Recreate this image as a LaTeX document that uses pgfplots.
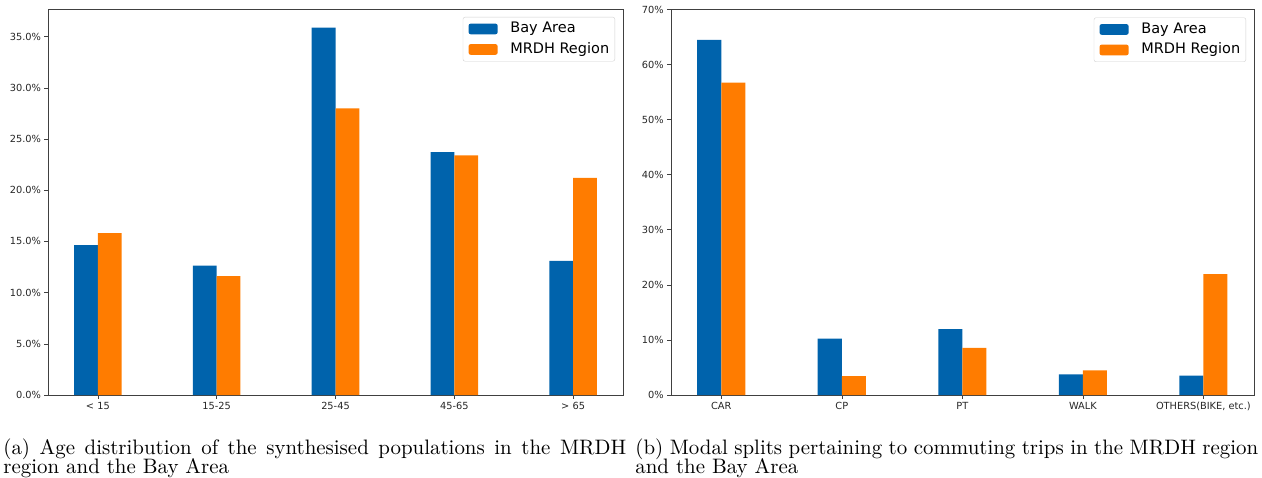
\documentclass[border=0pt]{standalone}
\usepackage{fontspec}
\usepackage{pgfplots}
\pgfplotsset{compat=1.18}
\newfontfamily\dejavu{DejaVu Sans}
\definecolor{bayblue}{RGB}{0,99,172}
\definecolor{mrdhorange}{RGB}{255,124,0}
\pgfplotsset{
  mybars/.style={
    scale only axis,
    ybar,
    bar width=0.2,
    xmin=-0.42, xmax=4.42, ymin=0,
    xtick={0,1,2,3,4},
    axis line style={black!75},
    tick style={black!75, line width=0.6pt},
    tick align=outside,
    major tick length=3.5pt,
    xtick pos=bottom,
    ytick pos=left,
    /pgf/number format/assume math mode=true,
    ticklabel style={font=\dejavu\fontsize{9.8}{11}\selectfont, text=black!85},
    legend image code/.code={\fill[##1] (0pt,-5.3pt) rectangle (29pt,5.3pt);},
    legend cell align=left,
    legend style={
      at={(1,1)}, anchor=north east, xshift=-8pt, yshift=-8pt,
      draw=black!18, rounded corners=2pt,
      font=\dejavu\fontsize{14.5}{17}\selectfont,
      inner xsep=5.6pt, inner ysep=5pt,
      column sep=12.7pt, row sep=7pt,
      nodes={inner sep=0pt, text height=10.5pt, text depth=3pt},
    },
  }
}
\begin{document}
\begin{tikzpicture}
\useasboundingbox (0pt,0pt) rectangle (1262pt,477pt);
\begin{axis}[mybars,
  at={(48pt,82pt)}, anchor=south west,
  width=575pt, height=386pt,
  ymax=37.7,
  ytick={0,5,10,15,20,25,30,35},
  yticklabel={\pgfmathprintnumber[fixed,fixed zerofill,precision=1]{\tick}\%},
  xticklabels={{< 15},{15-25},{25-45},{45-65},{> 65}},
]
\addplot[fill=bayblue, draw=none, bar shift=-0.1] coordinates {(0,14.65) (1,12.63) (2,35.87) (3,23.73) (4,13.1)};
\addplot[fill=mrdhorange, draw=none, bar shift=0.1] coordinates {(0,15.8) (1,11.6) (2,28.0) (3,23.4) (4,21.2)};
\legend{Bay Area, MRDH Region}
\end{axis}
\begin{axis}[mybars,
  at={(670.7pt,82pt)}, anchor=south west,
  width=583.3pt, height=385.5pt,
  ymax=70,
  ytick={0,10,20,30,40,50,60,70},
  yticklabel={\pgfmathprintnumber[fixed,precision=0]{\tick}\%},
  xticklabels={CAR,CP,PT,WALK,{OTHERS(BIKE, etc.)}},
]
\addplot[fill=bayblue, draw=none, bar shift=-0.1] coordinates {(0,64.5) (1,10.24) (2,11.94) (3,3.76) (4,3.5)};
\addplot[fill=mrdhorange, draw=none, bar shift=0.1] coordinates {(0,56.7) (1,3.45) (2,8.55) (3,4.48) (4,21.94)};
\legend{Bay Area, MRDH Region}
\end{axis}
\node[anchor=base west, inner sep=0pt, scale=2.09] at (3pt,23pt) {\makebox[298pt][s]{(a) Age distribution of the synthesised populations in the MRDH}};
\node[anchor=base west, inner sep=0pt, scale=2.09] at (3pt,3.5pt) {region and the Bay Area};
\node[anchor=base west, inner sep=0pt, scale=2.09] at (635pt,23pt) {\makebox[298pt][s]{(b) Modal splits pertaining to commuting trips in the MRDH region}};
\node[anchor=base west, inner sep=0pt, scale=2.09] at (635pt,3.5pt) {and the Bay Area};
\end{tikzpicture}
\end{document}
